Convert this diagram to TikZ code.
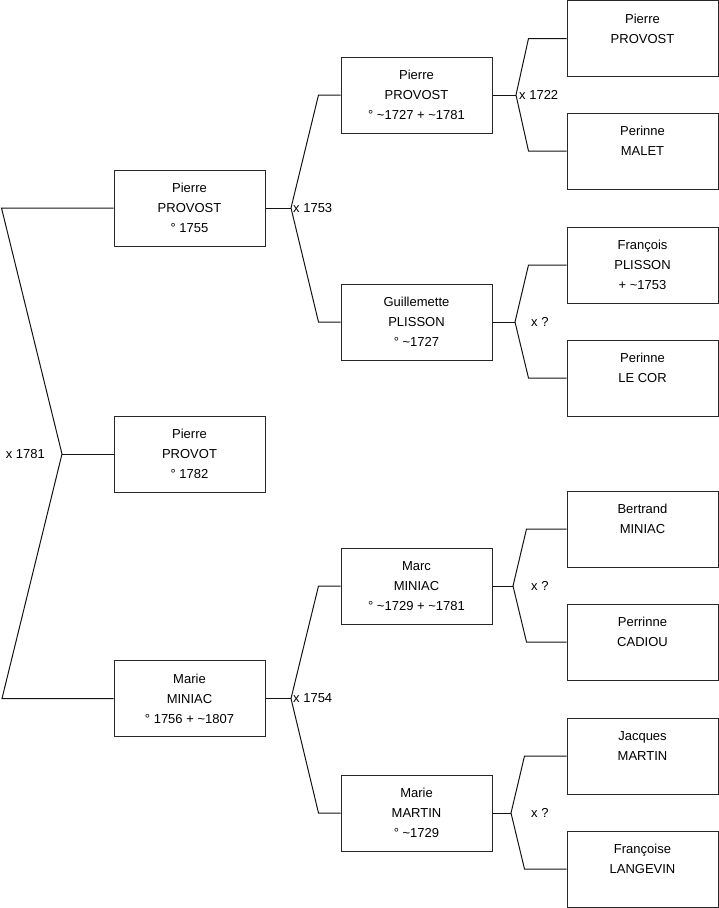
\documentclass[tikz,border=0pt]{standalone}
\usepackage{fontspec}
\setmainfont{Liberation Sans}
\usepackage{tikz}
\usetikzlibrary{positioning}
\definecolor{boxCol}{RGB}{40,40,40}
\definecolor{linkCol}{RGB}{20,20,20}
\newcommand{\env}{\textasciitilde}
\tikzset{
  pers/.style={draw=boxCol, line width=1pt, align=center,
               minimum width=151pt, minimum height=76pt, inner sep=0pt,
               font=\fontsize{13}{20}\selectfont},
  lien/.style={line width=1pt, linkCol},
  union/.style={font=\fontsize{13}{16}\selectfont, inner sep=1pt},
}

\begin{document}
\begin{tikzpicture}[x=1pt,y=-1pt]
  \useasboundingbox (0,0) rectangle (719,908);

  % generation 1
  \node[pers] (gPierre) at (189.5,208) {Pierre\\PROVOST\\° 1755};
  \node[pers] (enfant)  at (189.5,454) {Pierre\\PROVOT\\° 1782};
  \node[pers] (gMarie)  at (189.5,698.5) {Marie\\MINIAC\\° 1756 + \env1807};

  % generation 2
  \node[pers] (pPierre) at (416.5,95)  {Pierre\\PROVOST\\° \env1727 + \env1781};
  \node[pers] (pGuil)   at (416.5,322) {Guillemette\\PLISSON\\° \env1727};
  \node[pers] (pMarc)   at (416.5,586) {Marc\\MINIAC\\° \env1729 + \env1781};
  \node[pers] (pMarie)  at (416.5,813) {Marie\\MARTIN\\° \env1729};

  % generation 3
  \node[pers] (aPierre)   at (642.5,38.5) {Pierre\\PROVOST\\\mbox{}};
  \node[pers] (aMalet)    at (642.5,151)  {Perinne\\MALET\\\mbox{}};
  \node[pers] (aFrancois) at (642.5,265)  {François\\PLISSON\\ + \env1753};
  \node[pers] (aLeCor)    at (642.5,378)  {Perinne\\LE COR\\\mbox{}};
  \node[pers] (aBertrand) at (642.5,529)  {Bertrand\\MINIAC\\\mbox{}};
  \node[pers] (aCadiou)   at (642.5,642)  {Perrinne\\CADIOU\\\mbox{}};
  \node[pers] (aJacques)  at (642.5,756)  {Jacques\\MARTIN\\\mbox{}};
  \node[pers] (aLangevin) at (642.5,869)  {Françoise\\LANGEVIN\\\mbox{}};

  % junctions
  \coordinate (jRoot)   at (62,454);
  \coordinate (jPierre) at (291,208);
  \coordinate (jMarie)  at (291,698.5);
  \coordinate (jPP)     at (516,95);
  \coordinate (jPG)     at (515,322);
  \coordinate (jPM)     at (513,586);
  \coordinate (jPMa)    at (511,813);

  % root couple -> child
  \draw[lien] (gPierre.west) -- ++(-112,0) -- (jRoot) -- ++(-60,244.5) -- (gMarie.west);
  \draw[lien] (jRoot) -- (enfant.west);
  \node[union, left=16pt of jRoot] {x 1781};

  % Pierre -> parents
  \draw[lien] (gPierre.east) -- (jPierre);
  \draw[lien] (pPierre.west) -- ++(-22,0) -- (jPierre) -- ([xshift=-22pt]pGuil.west) -- (pGuil.west);
  \node[union, right=1pt of jPierre] {x 1753};

  % Marie -> parents
  \draw[lien] (gMarie.east) -- (jMarie);
  \draw[lien] (pMarc.west) -- ++(-22,0) -- (jMarie) -- ([xshift=-22pt]pMarie.west) -- (pMarie.west);
  \node[union, right=1pt of jMarie] {x 1754};

  % generation 2 -> generation 3
  \draw[lien] (pPierre.east) -- (jPP);
  \draw[lien] (aPierre.west) -- ++(-38,0) -- (jPP) -- ([xshift=-38pt]aMalet.west) -- (aMalet.west);
  \node[union, right=2pt of jPP] {x 1722};

  \draw[lien] (pGuil.east) -- (jPG);
  \draw[lien] (aFrancois.west) -- ++(-38,0) -- (jPG) -- ([xshift=-38pt]aLeCor.west) -- (aLeCor.west);
  \node[union, right=15pt of jPG] {x ?};

  \draw[lien] (pMarc.east) -- (jPM);
  \draw[lien] (aBertrand.west) -- ++(-40,0) -- (jPM) -- ([xshift=-40pt]aCadiou.west) -- (aCadiou.west);
  \node[union, right=17pt of jPM] {x ?};

  \draw[lien] (pMarie.east) -- (jPMa);
  \draw[lien] (aJacques.west) -- ++(-42,0) -- (jPMa) -- ([xshift=-42pt]aLangevin.west) -- (aLangevin.west);
  \node[union, right=19pt of jPMa] {x ?};
\end{tikzpicture}
\end{document}
